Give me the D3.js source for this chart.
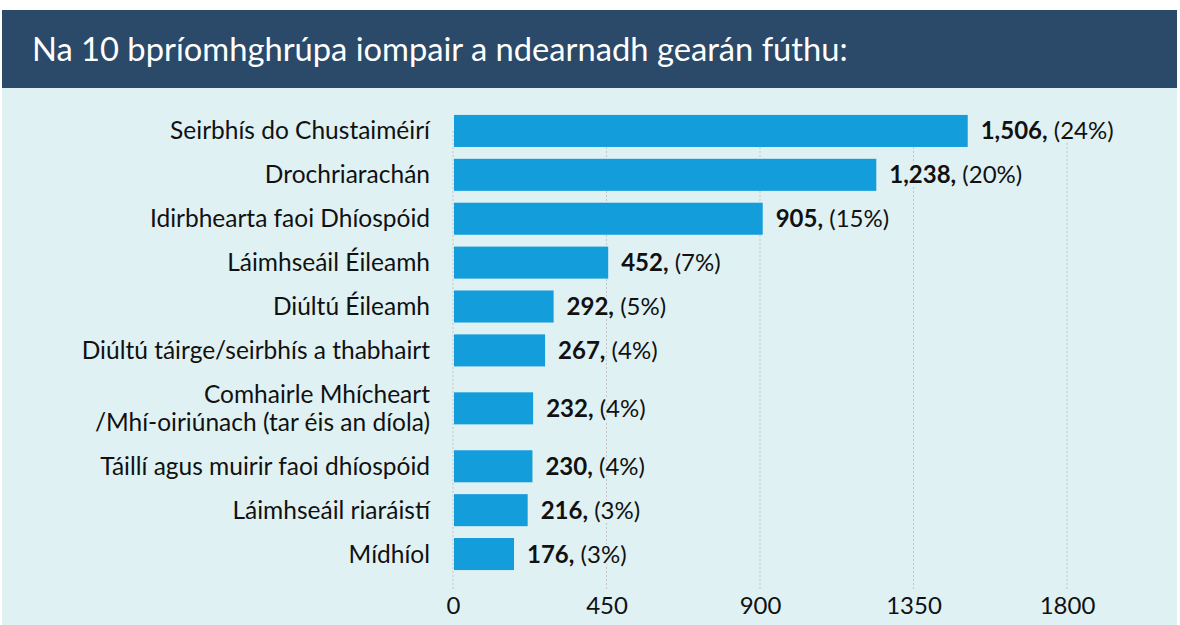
<!DOCTYPE html>
<html>
<head>
<meta charset="utf-8">
<script src="https://cdn.jsdelivr.net/npm/d3@7"></script>
<style>
  html, body { margin: 0; padding: 0; background: #ffffff; }
  svg { display: block; font-family: Lato, "Open Sans", sans-serif; }
</style>
</head>
<body>
<svg id="chart" width="1180" height="625"></svg>
<script>
const title = "Na 10 bpríomhghrúpa iompair a ndearnadh gearán fúthu:";
const categories = [
  "Seirbhís do Chustaiméirí",
  "Drochriarachán",
  "Idirbhearta faoi Dhíospóid",
  "Láimhseáil Éileamh",
  "Diúltú Éileamh",
  "Diúltú táirge/seirbhís a thabhairt",
  "Comhairle Mhícheart\n/Mhí-oiriúnach (tar éis an díola)",
  "Táillí agus muirir faoi dhíospóid",
  "Láimhseáil riaráistí",
  "Mídhíol"
];
const counts = [1506, 1238, 905, 452, 292, 267, 232, 230, 216, 176];
const percents = [24, 20, 15, 7, 5, 4, 4, 4, 3, 3];
const tickValues = [0, 450, 900, 1350, 1800];

const svg = d3.select("#chart");
const W = 1180, H = 625;

// panels
svg.append("rect").attr("x", 2).attr("y", 88).attr("width", 1175).attr("height", H - 88).attr("fill", "#e0f1f4");
svg.append("rect").attr("x", 2).attr("y", 10).attr("width", 1175).attr("height", 78).attr("fill", "#2b4968");
svg.append("text").attr("x", 32).attr("y", 61).attr("fill", "#ffffff")
  .attr("font-size", 32.7).text(title);

// x scale
const x = d3.scaleLinear().domain([0, 1800]).range([453, 1067]);

// y layout: rows weighted by number of label lines
const lines = categories.map(c => c.split("\n").length);
const weights = lines.map(n => 1 + (n - 1) * 0.64);
const starts = [];
weights.reduce((acc, w, i) => { starts[i] = acc; return acc + w; }, 0);
const total = d3.sum(weights);
const y = d3.scaleLinear().domain([0, total]).range([109, 576]);
const unit = y(1) - y(0);
const barH = unit * 0.73;
const centerY = i => y(starts[i] + weights[i] / 2);

// gridlines
const gridTop = centerY(0);
svg.append("g").selectAll("line").data(tickValues).join("line")
  .attr("x1", d => x(d)).attr("x2", d => x(d))
  .attr("y1", gridTop).attr("y2", 590)
  .attr("stroke", "#c4c4c4").attr("stroke-width", 1).attr("stroke-dasharray", "2,2");

// axis tick labels
const axis = d3.axisBottom(x).tickValues(tickValues).tickSize(0).tickPadding(0).tickFormat(d3.format("d"));
const gAxis = svg.append("g").attr("transform", "translate(0,597)").call(axis);
gAxis.select(".domain").remove();
gAxis.selectAll("text").attr("font-family", "Lato, sans-serif").attr("font-size", 24).attr("fill", "#111").attr("dy", "0.71em");

// bars
svg.append("g").selectAll("rect").data(counts).join("rect")
  .attr("x", x(0) + 1)
  .attr("y", (d, i) => centerY(i) - barH / 2)
  .attr("width", d => x(d) - x(0))
  .attr("height", barH)
  .attr("fill", "#139ddb");

// category labels
const catG = svg.append("g");
categories.forEach((c, i) => {
  const parts = c.split("\n");
  const t = catG.append("text").attr("x", 430).attr("text-anchor", "end")
    .attr("font-size", 24.5).attr("fill", "#111");
  parts.forEach((p, k) => {
    t.append("tspan").attr("x", 430)
      .attr("y", centerY(i) + 8.5 + (k - (parts.length - 1) / 2) * 28)
      .text(p);
  });
});

// value labels
const fmt = d3.format(",");
const valG = svg.append("g");
counts.forEach((v, i) => {
  const t = valG.append("text").attr("x", x(v) + 14).attr("y", centerY(i) + 8.5)
    .attr("font-size", 24).attr("fill", "#111")
    .attr("stroke", "#e0f1f4").attr("stroke-width", 4).attr("paint-order", "stroke");
  t.append("tspan").attr("font-weight", "bold").text(fmt(v) + ",");
  t.append("tspan").text(" (" + percents[i] + "%)");
});
</script>
</body>
</html>
